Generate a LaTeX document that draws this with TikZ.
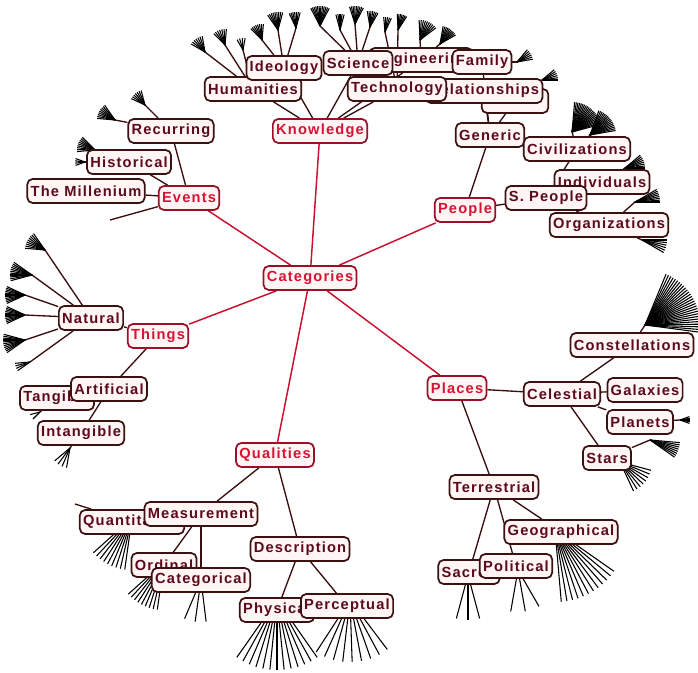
\documentclass[tikz,border=0pt]{standalone}
\usepackage{fontspec}
\usetikzlibrary{backgrounds}
\newfontfamily\nodefamily{Liberation Sans}[LetterSpace=8]
\newcommand\nodefont{\nodefamily\bfseries\fontsize{11}{13}\selectfont}
\definecolor{dkb}{HTML}{3A1212}
\definecolor{dkt}{HTML}{5A0A1A}
\definecolor{rdb}{HTML}{9A1028}
\definecolor{rdt}{HTML}{D41434}
\definecolor{ndfill}{HTML}{FFF5F5}
\definecolor{redline}{HTML}{C8102E}
\definecolor{darkline}{HTML}{3A0E0E}
\tikzset{
  nd/.style={draw=dkb, fill=ndfill, rounded corners=4pt, line width=1.3pt,
    inner xsep=2.5pt, inner ysep=1.5pt, minimum height=18pt, text=dkt, font=\nodefont},
  rd/.style={nd, draw=rdb, text=rdt},
  redge/.style={draw=redline, line width=1.1pt},
  dedge/.style={draw=darkline, line width=1pt},
  fanline/.style={draw=black, line width=0.8pt},
}
% fan: x, y, direction, length, count, spread
\newcommand\fan[6]{%
  \foreach \k in {1,...,#5}{%
    \draw[fanline] (#1,#2) -- ++({#3-#6/2+#6*(\k-1)/(#5-1)}:#4);}}
% stem from node to point, then fan
\newcommand\stemfan[7]{%
  \draw[dedge] (#1) -- (#2,#3);
  \fan{#2}{#3}{#4}{#5}{#6}{#7}}
\begin{document}
\begin{tikzpicture}[x=0.75pt,y=-0.75pt]
\useasboundingbox (0,0) rectangle (698,673);
% ---- nodes ----
\node[rd] (cat) at (310,278) {Categories};
\node[rd] (kno) at (320,131) {Knowledge};
\node[rd] (eve) at (189,198) {Events};
\node[rd] (peo) at (465,210) {People};
\node[rd] (thi) at (158,336) {Things};
\node[rd] (pla) at (457,388) {Places};
\node[rd] (qua) at (275,455) {Qualities};
\node[nd] (hum) at (253,89) {Humanities};
\node[nd] (ide) at (284,68) {Ideology};
\node[nd] (eng) at (421,60) {Engineering};
\node[nd] (sci) at (358,63) {Science};
\node[nd] (fam) at (482,62) {Family};
\node[nd, minimum width=50pt] (soc) at (515,101) {};
\node[nd] (rel) at (484,91) {Relationships};
\node[nd] (tec) at (397,89) {Technology};
\node[nd] (gen) at (490,135) {Generic};
\node[nd] (civ) at (577,149) {Civilizations};
\node[nd] (ind) at (602,182) {Individuals};
\node[nd] (spe) at (546,198) {S. People};
\node[nd] (org) at (609,225) {Organizations};
\node[nd] (rec) at (171,131) {Recurring};
\node[nd] (his) at (129,162) {Historical};
\node[nd] (mil) at (86,191) {The Millenium};
\node[nd] (nat) at (91,318) {Natural};
\node[nd] (tan) at (57,398) {Tangible};
\node[nd] (art) at (109,389) {Artificial};
\node[nd] (int) at (81,433) {Intangible};
\node[nd] (qut) at (132,522) {Quantitative};
\node[nd] (mea) at (201,514) {Measurement};
\node[nd] (ord) at (164,565) {Ordinal};
\node[nd] (cag) at (201,580) {Categorical};
\node[nd] (des) at (300,549) {Description};
\node[nd] (phy) at (277,610) {Physical};
\node[nd] (per) at (347,606) {Perceptual};
\node[nd] (cel) at (562,394) {Celestial};
\node[nd] (con) at (632,345) {Constellations};
\node[nd] (gal) at (645,390) {Galaxies};
\node[nd] (pln) at (640,422) {Planets};
\node[nd] (sta) at (607,458) {Stars};
\node[nd] (ter) at (494,487) {Terrestrial};
\node[nd] (geo) at (561,532) {Geographical};
\node[nd] (sac) at (469,572) {Sacred};
\node[nd] (pol) at (516,566) {Political};
% ---- connectors and fans (behind) ----
\begin{pgfonlayer}{background}
\fill[white] (0,0) rectangle (698,673);
\foreach \n in {kno,eve,peo,thi,pla,qua}{\draw[redge] (cat) -- (\n);}
\foreach \a/\b in {kno/hum,kno/ide,kno/sci,kno/tec,kno/eng,
  eve/rec,eve/his,eve/mil,peo/gen,peo/spe,gen/rel,gen/fam,gen/soc,
  spe/civ,spe/ind,spe/org,thi/nat,thi/art,art/tan,art/int,
  pla/cel,pla/ter,cel/con,cel/gal,cel/pln,cel/sta,ter/geo,ter/pol,ter/sac,
  qua/mea,qua/des,mea/qut,mea/ord,mea/cag,des/phy,des/per}{\draw[dedge] (\a) -- (\b);}
% top
\stemfan{hum}{205}{52}{-125}{16}{7}{50}
\stemfan{hum}{225}{45}{-110}{16}{7}{50}
\stemfan{hum}{243}{50}{-100}{12}{4}{40}
\stemfan{ide}{262}{40}{-110}{16}{8}{50}
\stemfan{ide}{278}{30}{-100}{18}{9}{50}
\stemfan{ide}{296}{28}{-95}{16}{7}{40}
\stemfan{sci}{320}{26}{-90}{20}{12}{55}
\stemfan{sci}{340}{30}{-90}{16}{5}{30}
\stemfan{sci}{355}{24}{-85}{18}{9}{45}
\stemfan{sci}{370}{27}{-80}{16}{7}{40}
\stemfan{tec}{385}{32}{-80}{15}{5}{30}
\stemfan{tec}{398}{30}{-75}{16}{7}{35}
\stemfan{eng}{420}{40}{-65}{20}{10}{55}
\stemfan{eng}{440}{44}{-55}{18}{10}{50}
\stemfan{fam}{517}{62}{-30}{16}{6}{40}
\stemfan{rel}{542}{80}{-20}{16}{6}{40}
% people side
\stemfan{civ}{572}{132}{-50}{30}{22}{70}
\stemfan{civ}{590}{135}{-40}{26}{16}{60}
\stemfan{ind}{625}{168}{-20}{20}{8}{40}
\stemfan{org}{635}{202}{-15}{25}{8}{30}
\stemfan{org}{642}{240}{15}{25}{6}{30}
% places side
\stemfan{con}{645}{325}{-30}{55}{28}{75}
\stemfan{pln}{680}{420}{0}{10}{5}{40}
\stemfan{sta}{650}{440}{20}{30}{8}{30}
\stemfan{sta}{620}{462}{40}{32}{8}{50}
\fan{555}{530}{60}{72}{12}{50}
\fan{518}{570}{80}{42}{3}{40}
\fan{468}{575}{90}{45}{3}{30}
% qualities side
\fan{277}{600}{90}{70}{13}{70}
\fan{350}{600}{88}{62}{9}{70}
\fan{132}{518}{118}{52}{9}{40}
\fan{164}{562}{118}{48}{9}{40}
\fan{201}{580}{98}{42}{3}{30}
\draw[dedge] (qut) -- (75,504);
% things side
\stemfan{nat}{45}{250}{-150}{20}{9}{50}
\stemfan{nat}{32}{275}{-170}{22}{11}{50}
\stemfan{nat}{25}{295}{180}{20}{11}{50}
\stemfan{nat}{25}{315}{180}{20}{11}{50}
\stemfan{nat}{25}{340}{170}{22}{11}{50}
\stemfan{nat}{30}{362}{160}{15}{4}{30}
\stemfan{int}{70}{448}{120}{20}{4}{40}
\stemfan{tan}{40}{412}{150}{10}{2}{30}
% events side
\stemfan{rec}{145}{105}{-130}{15}{7}{50}
\stemfan{rec}{115}{120}{-150}{18}{9}{50}
\stemfan{his}{95}{150}{-160}{18}{9}{50}
\stemfan{his}{85}{162}{180}{10}{4}{40}
\draw[dedge] (eve) -- (110,220);
\end{pgfonlayer}
\end{tikzpicture}
\end{document}
